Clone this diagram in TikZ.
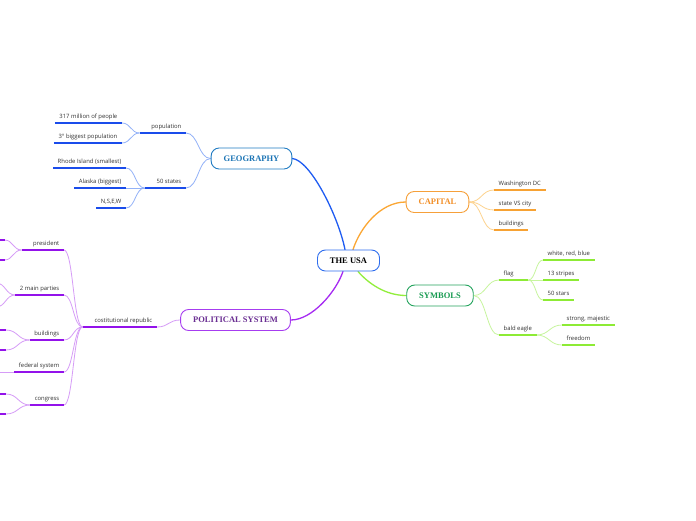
\documentclass[tikz,border=0pt]{standalone}
\usepackage{fontspec}
\setmainfont{Liberation Serif}
\newfontfamily\leaffont{Open Sans}
\usetikzlibrary{calc,backgrounds}

\definecolor{geoline}{HTML}{1F5CF2}
\definecolor{geoul}{HTML}{1A4CEB}
\definecolor{geosub}{HTML}{93B2F8}
\definecolor{geobd}{HTML}{1E7AC2}
\definecolor{geotx}{HTML}{1B74B5}
\definecolor{usabd}{HTML}{2F6EEE}
\definecolor{capline}{HTML}{FBA734}
\definecolor{orangeul}{HTML}{F7A233}
\definecolor{capsub}{HTML}{FDD38F}
\definecolor{capbd}{HTML}{F6A03A}
\definecolor{captx}{HTML}{F28F28}
\definecolor{symline}{HTML}{92EE3C}
\definecolor{symul}{HTML}{8DEB35}
\definecolor{symsub}{HTML}{C7F59E}
\definecolor{symbd}{HTML}{22A35C}
\definecolor{symtx}{HTML}{169A50}
\definecolor{polline}{HTML}{A62BF2}
\definecolor{purpleul}{HTML}{9312EA}
\definecolor{polsub}{HTML}{D69CF7}
\definecolor{polbd}{HTML}{A63CF0}
\definecolor{poltx}{HTML}{6A2E92}
\definecolor{leaftx}{HTML}{333333}

\tikzset{
 topic/.style={draw=#1, line width=0.9pt, fill=white, rounded corners=8pt,
   font=\fontsize{8.5}{10}\selectfont\bfseries, inner xsep=12.5pt, inner ysep=0pt, minimum height=21pt},
 leaf/.style={font=\leaffont\fontsize{5.9}{7}\selectfont, text=leaftx, inner xsep=4.5pt,
   inner ysep=2.8pt, text height=4.4pt, text depth=1.3pt},
 ulline/.style={line width=1.5pt, color=#1},
 branch/.style={line width=1.3pt, color=#1, line cap=round},
 sub/.style={line width=0.8pt, color=#1},
 sc/.style={to path={.. controls ($(\tikztostart)!0.5!(\tikztostart-|\tikztotarget)$) and ($(\tikztotarget)!0.5!(\tikztotarget-|\tikztostart)$) .. (\tikztotarget)}},
}

\begin{document}
\begin{tikzpicture}[x=1pt,y=-1pt]
\useasboundingbox (0,0) rectangle (696,520);
\begin{scope}[on background layer]
\fill[white] (0,0) rectangle (696,520);
\end{scope}

% main topics
\node[topic=usabd, text=black] (usa) at (348.5,260.5) {THE USA};
\node[topic=geobd, text=geotx] (geo) at (251.5,158.5) {GEOGRAPHY};
\node[topic=capbd, text=captx] (cap) at (437.5,202) {CAPITAL};
\node[topic=symbd, text=symtx] (sym) at (440,295.5) {SYMBOLS};
\node[topic=polbd, text=poltx] (pol) at (235.5,320) {POLITICAL SYSTEM};

% geography leaves
\node[leaf,anchor=south east] (pop) at (186,133) {\makebox[37pt][r]{population}};
\node[leaf,anchor=south east] (m317) at (122,123) {317 million of people};
\node[leaf,anchor=south east] (big3) at (122,143) {3° biggest population};
\node[leaf,anchor=south east] (st50) at (186,188) {\makebox[32pt][r]{50 states}};
\node[leaf,anchor=south east] (rhode) at (126,168) {Rhode Island (smallest)};
\node[leaf,anchor=south east] (alaska) at (126,188) {Alaska (biggest)};
\node[leaf,anchor=south east] (nsew) at (126,208) {N,S,E,W};

% capital leaves
\node[leaf,anchor=south west] (wdc) at (494,190) {Washington DC};
\node[leaf,anchor=south west] (svc) at (494,210) {state VS city};
\node[leaf,anchor=south west] (cbld) at (494,230) {buildings};

% symbols leaves
\node[leaf,anchor=south west] (flag) at (499,280) {\makebox[20pt][l]{flag}};
\node[leaf,anchor=south west] (eagle) at (499,335) {bald eagle};
\node[leaf,anchor=south west] (wrb) at (543,260) {white, red, blue};
\node[leaf,anchor=south west] (str13) at (543,280) {13 stripes};
\node[leaf,anchor=south west] (stars) at (543,300) {50 stars};
\node[leaf,anchor=south west] (strong) at (562,325) {strong, majestic};
\node[leaf,anchor=south west] (freedom) at (562,345) {freedom};

% political leaves
\node[leaf,anchor=south east] (cr) at (157,327) {\makebox[65pt][r]{costitutional republic}};
\node[leaf,anchor=south east] (pres) at (64,250) {\makebox[33pt][r]{president}};
\node[leaf,anchor=south east] (parties) at (64,295) {2 main parties};
\node[leaf,anchor=south east] (pbld) at (64,340) {buildings};
\node[leaf,anchor=south east] (fed) at (64,372) {federal system};
\node[leaf,anchor=south east] (cong) at (64,405) {congress};

\coordinate (pr1) at (4.5,240);
\coordinate (pr2) at (4.5,260);
\coordinate (pa1) at (-4,283);
\coordinate (pa2) at (-4,307);
\coordinate (bu1) at (6,330);
\coordinate (bu2) at (6,350);
\coordinate (fe1) at (-5,372);
\coordinate (co1) at (6,394);
\coordinate (co2) at (6,414);

\begin{scope}[on background layer]
% main branches
\draw[branch=geoline] ([xshift=-3.5pt]usa.north) .. controls (338,215) and (310,160) .. (geo.east);
\draw[branch=capline] ([xshift=4.5pt]usa.north) .. controls (360,228) and (380,202) .. (cap.west);
\draw[branch=symline] ([xshift=9.5pt]usa.south) .. controls (368,283) and (385,295.5) .. (sym.west);
\draw[branch=polline] ([xshift=-5.5pt]usa.south) .. controls (336,292) and (312,320) .. (pol.east);

% geography
\draw[sub=geosub] (geo.west) to[sc] (pop.south east);
\draw[sub=geosub] (geo.west) to[sc] (st50.south east);
\draw[sub=geosub] (pop.south west) to[sc] (m317.south east);
\draw[sub=geosub] (pop.south west) to[sc] (big3.south east);
\draw[sub=geosub] (st50.south west) to[sc] (rhode.south east);
\draw[sub=geosub] (st50.south west) to[sc] (alaska.south east);
\draw[sub=geosub] (st50.south west) to[sc] (nsew.south east);

% capital
\draw[sub=capsub] (cap.east) to[sc] (wdc.south west);
\draw[sub=capsub] (cap.east) to[sc] (svc.south west);
\draw[sub=capsub] (cap.east) to[sc] (cbld.south west);

% symbols
\draw[sub=symsub] (sym.east) to[sc] (flag.south west);
\draw[sub=symsub] (sym.east) to[sc] (eagle.south west);
\draw[sub=symsub] (flag.south east) to[sc] (wrb.south west);
\draw[sub=symsub] (flag.south east) to[sc] (str13.south west);
\draw[sub=symsub] (flag.south east) to[sc] (stars.south west);
\draw[sub=symsub] (eagle.south east) to[sc] (strong.south west);
\draw[sub=symsub] (eagle.south east) to[sc] (freedom.south west);

% political
\draw[sub=polsub] (pol.west) to[sc] (cr.south east);
\draw[sub=polsub] (cr.south west) to[sc] (pres.south east);
\draw[sub=polsub] (cr.south west) to[sc] (parties.south east);
\draw[sub=polsub] (cr.south west) to[sc] (pbld.south east);
\draw[sub=polsub] (cr.south west) to[sc] (fed.south east);
\draw[sub=polsub] (cr.south west) to[sc] (cong.south east);
\draw[sub=polsub] (pres.south west) to[sc] (pr1);
\draw[sub=polsub] (pres.south west) to[sc] (pr2);
\draw[sub=polsub] (parties.south west) to[sc] (pa1);
\draw[sub=polsub] (parties.south west) to[sc] (pa2);
\draw[sub=polsub] (pbld.south west) to[sc] (bu1);
\draw[sub=polsub] (pbld.south west) to[sc] (bu2);
\draw[sub=polsub] (fed.south west) -- (fe1);
\draw[sub=polsub] (cong.south west) to[sc] (co1);
\draw[sub=polsub] (cong.south west) to[sc] (co2);
\end{scope}

% underlines
\draw[ulline=geoul] (pop.south west) -- (pop.south east);
\draw[ulline=geoul] (m317.south west) -- (m317.south east);
\draw[ulline=geoul] (big3.south west) -- (big3.south east);
\draw[ulline=geoul] (st50.south west) -- (st50.south east);
\draw[ulline=geoul] (rhode.south west) -- (rhode.south east);
\draw[ulline=geoul] (alaska.south west) -- (alaska.south east);
\draw[ulline=geoul] (nsew.south west) -- (nsew.south east);
\draw[ulline=orangeul] (wdc.south west) -- (wdc.south east);
\draw[ulline=orangeul] (svc.south west) -- (svc.south east);
\draw[ulline=orangeul] (cbld.south west) -- (cbld.south east);
\draw[ulline=symul] (flag.south west) -- (flag.south east);
\draw[ulline=symul] (eagle.south west) -- (eagle.south east);
\draw[ulline=symul] (wrb.south west) -- (wrb.south east);
\draw[ulline=symul] (str13.south west) -- (str13.south east);
\draw[ulline=symul] (stars.south west) -- (stars.south east);
\draw[ulline=symul] (strong.south west) -- (strong.south east);
\draw[ulline=symul] (freedom.south west) -- (freedom.south east);
\draw[ulline=purpleul] (cr.south west) -- (cr.south east);
\draw[ulline=purpleul] (pres.south west) -- (pres.south east);
\draw[ulline=purpleul] (parties.south west) -- (parties.south east);
\draw[ulline=purpleul] (pbld.south west) -- (pbld.south east);
\draw[ulline=purpleul] (fed.south west) -- (fed.south east);
\draw[ulline=purpleul] (cong.south west) -- (cong.south east);
\draw[ulline=purpleul] (pr1) -- ++(-30,0);
\draw[ulline=purpleul] (pr2) -- ++(-30,0);
\draw[ulline=purpleul] (pa1) -- ++(-30,0);
\draw[ulline=purpleul] (pa2) -- ++(-30,0);
\draw[ulline=purpleul] (bu1) -- ++(-30,0);
\draw[ulline=purpleul] (bu2) -- ++(-30,0);
\draw[ulline=purpleul] (co1) -- ++(-30,0);
\draw[ulline=purpleul] (co2) -- ++(-30,0);
\end{tikzpicture}
\end{document}
